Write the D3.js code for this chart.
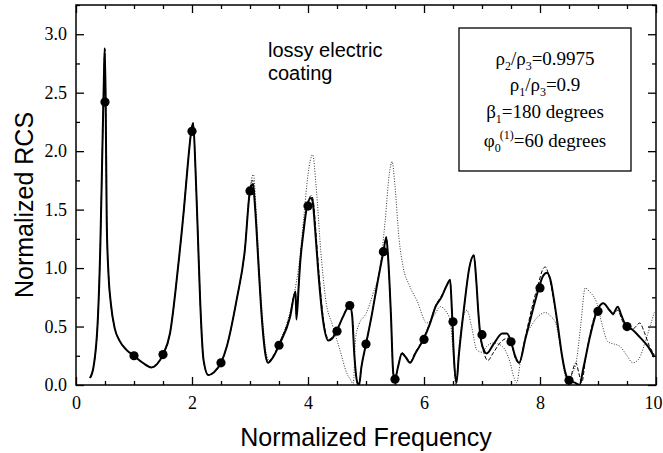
<!DOCTYPE html>
<html>
<head>
<meta charset="utf-8">
<script src="https://cdn.jsdelivr.net/npm/d3@7"></script>
<style>
body { margin: 0; background: #fff; }
</style>
</head>
<body>
<div id="canvas"></div>
<script>
//    data (normalized frequency, normalized RCS)
var solidCurve = [
  [0.24,0.06],[0.30,0.15],[0.38,0.60],[0.42,1.20],[0.45,1.90],[0.48,2.60],[0.495,2.88],[0.51,2.50],
  [0.53,1.40],[0.56,0.95],[0.60,0.70],[0.67,0.48],[0.75,0.38],[0.87,0.30],[1.00,0.25],[1.15,0.19],
  [1.30,0.15],[1.40,0.18],[1.50,0.26],[1.62,0.44],[1.76,1.01],[1.86,1.50],[1.93,1.90],[1.99,2.18],
  [2.02,2.24],[2.06,1.85],[2.10,1.30],[2.14,0.73],[2.20,0.21],[2.28,0.085],[2.38,0.11],[2.50,0.19],
  [2.60,0.33],[2.77,0.73],[2.91,1.15],[3.00,1.66],[3.05,1.72],[3.09,1.50],[3.15,1.00],[3.20,0.60],
  [3.27,0.25],[3.31,0.19],[3.40,0.24],[3.50,0.34],[3.69,0.58],[3.785,0.80],[3.80,0.56],[3.84,0.85],
  [3.86,1.01],[3.92,1.30],[3.98,1.52],[4.05,1.60],[4.08,1.57],[4.12,1.35],[4.18,0.95],[4.26,0.55],
  [4.35,0.38],[4.42,0.40],[4.50,0.47],[4.60,0.58],[4.68,0.66],[4.72,0.68],[4.76,0.60],[4.80,0.25],
  [4.85,0.02],[4.88,0.00],[4.92,0.15],[5.00,0.35],[5.10,0.60],[5.20,0.88],[5.30,1.14],[5.35,1.26],
  [5.38,1.10],[5.43,0.60],[5.47,0.10],[5.50,0.05],[5.55,0.15],[5.62,0.27],[5.68,0.24],[5.76,0.19],
  [5.85,0.27],[5.99,0.39],[6.10,0.52],[6.20,0.67],[6.30,0.75],[6.40,0.86],[6.45,0.90],[6.48,0.65],
  [6.52,0.20],[6.56,0.02],[6.60,0.25],[6.70,0.70],[6.78,1.00],[6.86,1.11],[6.90,0.90],[6.94,0.60],
  [6.97,0.43],[7.03,0.30],[7.08,0.27],[7.20,0.35],[7.35,0.44],[7.43,0.44],[7.50,0.37],[7.57,0.25],
  [7.64,0.19],[7.75,0.40],[7.88,0.65],[7.98,0.83],[8.05,0.93],[8.12,0.96],[8.18,0.90],[8.25,0.70],
  [8.31,0.50],[8.38,0.25],[8.43,0.12],[8.50,0.04],[8.60,0.02],[8.68,0.00],[8.75,0.15],[8.86,0.41],
  [8.98,0.63],[9.09,0.70],[9.20,0.64],[9.26,0.61],[9.34,0.67],[9.40,0.60],[9.48,0.51],[9.60,0.47],
  [9.72,0.41],[9.86,0.33],[9.97,0.24]
];

var dashedCurve = [
  [0.24,0.06],[0.30,0.15],[0.38,0.60],[0.42,1.20],[0.45,1.90],[0.48,2.60],[0.495,2.88],[0.51,2.50],
  [0.53,1.40],[0.56,0.95],[0.60,0.70],[0.67,0.48],[0.75,0.38],[0.87,0.30],[1.00,0.25],[1.15,0.19],
  [1.30,0.15],[1.40,0.18],[1.50,0.26],[1.62,0.44],[1.76,1.01],[1.86,1.50],[1.93,1.90],[1.99,2.18],
  [2.02,2.24],[2.06,1.85],[2.10,1.30],[2.14,0.73],[2.20,0.21],[2.28,0.085],[2.38,0.11],[2.50,0.19],
  [2.60,0.33],[2.77,0.73],[2.91,1.15],[3.00,1.68],[3.05,1.75],[3.09,1.52],[3.15,1.00],[3.20,0.60],
  [3.27,0.26],[3.31,0.20],[3.40,0.25],[3.50,0.35],[3.69,0.60],[3.785,0.80],[3.80,0.60],[3.84,0.86],
  [3.86,1.02],[3.92,1.32],[3.98,1.53],[4.06,1.62],[4.09,1.58],[4.13,1.35],[4.19,0.95],[4.27,0.55],
  [4.36,0.39],[4.42,0.41],[4.50,0.47],[4.60,0.58],[4.68,0.66],[4.72,0.68],[4.76,0.60],[4.80,0.25],
  [4.85,0.02],[4.88,0.00],[4.92,0.15],[5.00,0.35],[5.10,0.60],[5.20,0.88],[5.30,1.15],[5.35,1.27],
  [5.38,1.10],[5.43,0.60],[5.47,0.10],[5.50,0.05],[5.55,0.15],[5.62,0.28],[5.68,0.25],[5.76,0.20],
  [5.85,0.28],[5.99,0.40],[6.10,0.53],[6.20,0.68],[6.30,0.76],[6.40,0.86],[6.45,0.90],[6.48,0.65],
  [6.52,0.20],[6.56,0.02],[6.60,0.25],[6.70,0.70],[6.78,1.00],[6.86,1.11],[6.90,0.90],[6.94,0.60],
  [6.97,0.43],[7.03,0.28],[7.10,0.21],[7.20,0.28],[7.35,0.38],[7.45,0.40],[7.52,0.33],[7.58,0.22],
  [7.64,0.19],[7.75,0.42],[7.88,0.70],[7.98,0.88],[8.04,0.98],[8.09,1.01],[8.16,0.92],[8.25,0.68],
  [8.31,0.48],[8.38,0.25],[8.45,0.08],[8.50,0.01],[8.56,0.12],[8.62,0.19],[8.67,0.10],[8.72,0.02],
  [8.78,0.20],[8.86,0.43],[8.98,0.64],[9.09,0.70],[9.20,0.63],[9.26,0.60],[9.34,0.64],[9.42,0.55],
  [9.50,0.48],[9.60,0.48],[9.72,0.53],[9.80,0.45],[9.88,0.34],[9.97,0.26]
];

var dottedCurve = [
  [0.24,0.06],[0.30,0.15],[0.38,0.60],[0.42,1.20],[0.45,1.90],[0.48,2.60],[0.495,2.88],[0.51,2.50],
  [0.53,1.40],[0.56,0.95],[0.60,0.70],[0.67,0.48],[0.75,0.38],[0.87,0.30],[1.00,0.25],[1.15,0.19],
  [1.30,0.15],[1.40,0.18],[1.50,0.26],[1.62,0.44],[1.76,1.01],[1.86,1.50],[1.93,1.90],[1.99,2.18],
  [2.02,2.24],[2.06,1.85],[2.10,1.30],[2.14,0.73],[2.20,0.21],[2.28,0.085],[2.38,0.11],[2.50,0.19],
  [2.60,0.33],[2.77,0.73],[2.91,1.15],[3.00,1.68],[3.06,1.80],[3.10,1.55],[3.16,1.00],[3.22,0.55],
  [3.28,0.27],[3.33,0.21],[3.42,0.26],[3.50,0.36],[3.65,0.55],[3.75,0.75],[3.85,1.05],[3.93,1.45],
  [4.00,1.80],[4.08,1.97],[4.14,1.70],[4.22,1.15],[4.30,0.75],[4.43,0.50],[4.55,0.30],[4.67,0.10],
  [4.75,0.03],[4.78,0.00],[4.82,0.40],[4.88,0.52],[5.00,0.61],[5.12,0.78],[5.24,1.00],[5.33,1.40],
  [5.40,1.80],[5.45,1.91],[5.50,1.70],[5.57,1.25],[5.64,1.01],[5.75,0.85],[5.88,0.72],[6.05,0.53],
  [6.18,0.60],[6.28,0.67],[6.38,0.63],[6.45,0.55],[6.50,0.30],[6.55,0.00],[6.60,0.30],[6.66,0.55],
  [6.74,0.64],[6.82,0.50],[6.91,0.30],[7.00,0.28],[7.08,0.33],[7.20,0.36],[7.35,0.33],[7.48,0.20],
  [7.56,0.05],[7.60,0.02],[7.66,0.20],[7.75,0.40],[7.88,0.53],[8.00,0.60],[8.09,0.62],[8.20,0.58],
  [8.27,0.53],[8.36,0.30],[8.45,0.05],[8.50,0.02],[8.56,0.10],[8.62,0.18],[8.70,0.50],[8.78,0.83],
  [8.85,0.80],[8.98,0.70],[9.08,0.50],[9.17,0.37],[9.28,0.35],[9.38,0.33],[9.50,0.25],[9.60,0.19],
  [9.70,0.22],[9.84,0.41],[9.97,0.62]
];

var markerPoints = [
  [0.5,2.42],[1.0,0.25],[1.5,0.26],[2.0,2.17],[2.5,0.19],[3.0,1.66],[3.5,0.34],[4.0,1.53],
  [4.5,0.46],[4.72,0.68],[5.0,0.35],[5.3,1.14],[5.5,0.05],[6.0,0.39],[6.5,0.54],[7.0,0.43],
  [7.5,0.37],[8.0,0.83],[8.5,0.04],[9.0,0.63],[9.5,0.50]
];

var xMajor = [0, 2, 4, 6, 8, 10];
var xMinor = [0.5, 1, 1.5, 2.5, 3, 3.5, 4.5, 5, 5.5, 6.5, 7, 7.5, 8.5, 9, 9.5];
var yMajor = [0, 0.5, 1.0, 1.5, 2.0, 2.5, 3.0];
var yMinor = [0.25, 0.75, 1.25, 1.75, 2.25, 2.75, 3.25];

var legendLines = [
  [['ρ','n'],['2','sub'],['/ρ','n'],['3','sub'],['=0.9975','n']],
  [['ρ','n'],['1','sub'],['/ρ','n'],['3','sub'],['=0.9','n']],
  [['β','n'],['1','sub'],['=180 degrees','n']],
  [['φ','n'],['0','sub'],['(1)','sup'],['=60 degrees','n']]
];
var noteLines = ['lossy electric', 'coating'];

//    defination
var pLeft = 76, pRight = 656, pTop = 5, pBottom = 385;
var serif = '"Liberation Serif", "Times New Roman", serif';
var sans = '"Liberation Sans", Arial, sans-serif';

var x = d3.scaleLinear().domain([0, 10]).range([pLeft, pRight]);
var y = d3.scaleLinear().domain([0, 3.25]).range([pBottom, pTop]);

var line = d3.line()
  .x(function(d){ return x(d[0]); })
  .y(function(d){ return y(d[1]); })
  .curve(d3.curveMonotoneX);

//    svg
var svg = d3.select('#canvas')
  .append('svg')
  .attr('width', 663)
  .attr('height', 453);

svg.append('clipPath').attr('id', 'plot')
  .append('rect')
  .attr('x', pLeft).attr('y', pTop)
  .attr('width', pRight - pLeft).attr('height', pBottom - pTop);

//    axes (ticks pointing inward)
function styleAxis(g) {
  g.select('.domain').remove();
  g.selectAll('line').attr('stroke', '#000').attr('stroke-width', 1.3);
  g.selectAll('text').attr('font-family', serif).attr('font-size', 18).attr('fill', '#000');
}

svg.append('g').attr('transform', 'translate(0,' + pBottom + ')')
  .call(d3.axisBottom(x).tickValues(xMajor).tickSize(-8).tickPadding(11).tickFormat(d3.format('d')))
  .call(styleAxis)
  .selectAll('text')
  .filter(function(d){ return d == 10; })
  .attr('dx', -3);
svg.append('g').attr('transform', 'translate(0,' + pBottom + ')')
  .call(d3.axisBottom(x).tickValues(xMinor).tickSize(-4).tickFormat(''))
  .call(styleAxis);
svg.append('g').attr('transform', 'translate(0,' + pTop + ')')
  .call(d3.axisTop(x).tickValues(xMajor).tickSize(-8).tickFormat(''))
  .call(styleAxis);
svg.append('g').attr('transform', 'translate(0,' + pTop + ')')
  .call(d3.axisTop(x).tickValues(xMinor).tickSize(-4).tickFormat(''))
  .call(styleAxis);

svg.append('g').attr('transform', 'translate(' + pLeft + ',0)')
  .call(d3.axisLeft(y).tickValues(yMajor).tickSize(-8).tickPadding(9).tickFormat(d3.format('.1f')))
  .call(styleAxis);
svg.append('g').attr('transform', 'translate(' + pLeft + ',0)')
  .call(d3.axisLeft(y).tickValues(yMinor).tickSize(-4).tickFormat(''))
  .call(styleAxis);
svg.append('g').attr('transform', 'translate(' + pRight + ',0)')
  .call(d3.axisRight(y).tickValues(yMajor).tickSize(-8).tickFormat(''))
  .call(styleAxis);
svg.append('g').attr('transform', 'translate(' + pRight + ',0)')
  .call(d3.axisRight(y).tickValues(yMinor).tickSize(-4).tickFormat(''))
  .call(styleAxis);

//    curves
var plot = svg.append('g').attr('clip-path', 'url(#plot)');

plot.append('path')
  .datum(dottedCurve)
  .attr('d', line)
  .attr('fill', 'none')
  .attr('stroke', '#333')
  .attr('stroke-width', 1)
  .attr('stroke-dasharray', '1,1.6');

plot.append('path')
  .datum(dashedCurve)
  .attr('d', line)
  .attr('fill', 'none')
  .attr('stroke', '#000')
  .attr('stroke-width', 1)
  .attr('stroke-dasharray', '4,2');

plot.append('path')
  .datum(solidCurve)
  .attr('d', line)
  .attr('fill', 'none')
  .attr('stroke', '#000')
  .attr('stroke-width', 2);

svg.selectAll('.dot')
  .data(markerPoints)
  .enter()
  .append('circle')
  .attr('class', 'dot')
  .attr('cx', function(d){ return x(d[0]); })
  .attr('cy', function(d){ return y(d[1]); })
  .attr('r', 4.6)
  .attr('fill', '#000');

//    frame
svg.append('rect')
  .attr('x', pLeft).attr('y', pTop)
  .attr('width', pRight - pLeft).attr('height', pBottom - pTop)
  .attr('fill', 'none')
  .attr('stroke', '#000')
  .attr('stroke-width', 1.5);

//    axis titles
svg.append('text')
  .attr('x', (pLeft + pRight) / 2)
  .attr('y', 446)
  .attr('text-anchor', 'middle')
  .attr('font-family', sans)
  .attr('font-size', 25)
  .text('Normalized Frequency');

svg.append('text')
  .attr('transform', 'translate(33,205) rotate(-90)')
  .attr('text-anchor', 'middle')
  .attr('font-family', sans)
  .attr('font-size', 25)
  .text('Normalized RCS');

//    note
svg.selectAll('.note')
  .data(noteLines)
  .enter()
  .append('text')
  .attr('class', 'note')
  .attr('x', 268)
  .attr('y', function(d, i){ return 57 + i * 23; })
  .attr('font-family', sans)
  .attr('font-size', 20)
  .text(function(d){ return d; });

//    legend box
svg.append('rect')
  .attr('x', 459).attr('y', 28)
  .attr('width', 172).attr('height', 143)
  .attr('fill', '#fff')
  .attr('stroke', '#000')
  .attr('stroke-width', 1.3);

var baselines = [65, 91, 118, 147];
legendLines.forEach(function(parts, i){
  var t = svg.append('text')
    .attr('x', 545)
    .attr('y', baselines[i])
    .attr('text-anchor', 'middle')
    .attr('font-family', serif)
    .attr('font-size', 19);
  var cur = 0;
  parts.forEach(function(p){
    var off = p[1] == 'sub' ? 5 : (p[1] == 'sup' ? -8 : 0);
    var s = t.append('tspan').attr('dy', off - cur).text(p[0]);
    if (p[1] != 'n') s.attr('font-size', 12);
    if (p[1] == 'sup') s.attr('dx', -1);
    cur = off;
  });
});
</script>
</body>
</html>
